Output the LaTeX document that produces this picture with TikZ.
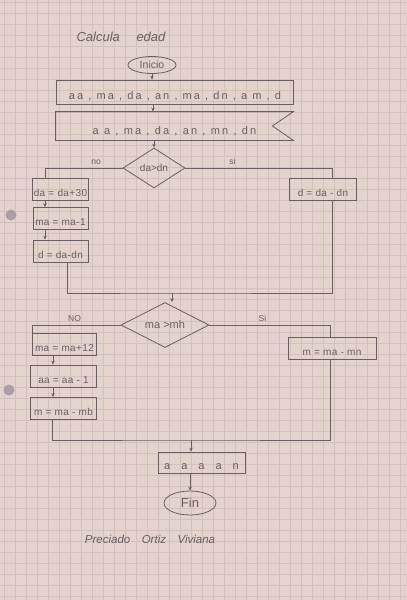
\documentclass[tikz,border=0pt]{standalone}
\usepackage{fontspec}
\setmainfont{Liberation Sans}
\usetikzlibrary{shapes.geometric,arrows.meta}
\definecolor{paper}{RGB}{228,210,204}
\definecolor{gridc}{RGB}{212,193,189}
\definecolor{pencil}{RGB}{105,95,98}
\definecolor{holec}{RGB}{172,160,166}
\tikzset{
  ln/.style={draw=pencil, line width=0.8pt},
  box/.style={ln, rectangle, minimum width=#1, minimum height=22pt, inner sep=1pt, text height=14pt, text depth=0pt, text=pencil, font=\fontsize{10}{11}\selectfont\addfontfeatures{LetterSpace=4}},
  dia/.style={ln, diamond, aspect=1.55, inner sep=1pt, text=pencil, font=\fontsize{10}{11}\selectfont},
  term/.style={ln, ellipse, inner sep=1pt, text=pencil, font=\fontsize{10.5}{11}\selectfont},
  arr/.style={ln, -{Stealth[length=4pt,width=3.5pt]}},
  lbl/.style={text=pencil, font=\fontsize{8.5}{9}\selectfont},
}
\begin{document}
\begin{tikzpicture}[x=1pt,y=-1pt]
\fill[paper] (0,0) rectangle (407,600);
\useasboundingbox (0,0) rectangle (407,600);
\foreach \i in {0,...,37} {\draw[gridc, line width=0.3pt] (4+11*\i,0) -- (4+11*\i,600);}
\foreach \j in {0,...,55} {\draw[gridc, line width=0.3pt] (0,2+11*\j) -- (407,2+11*\j);}
\fill[holec] (11,215) circle (5.5);
\fill[holec] (9,390) circle (5.5);

% title
\node[text=pencil, font=\itshape\fontsize{13}{14}\selectfont] (title) at (121,37) {Calcula\quad\ edad};

% nodes
\node[term, minimum width=48pt, minimum height=17pt] (ini) at (152,65) {Inicio};
\node[box=237pt, minimum height=24pt, text height=15pt, font=\fontsize{11}{12}\selectfont\addfontfeatures{LetterSpace=19}] (in1) at (175,92) {aa , ma , da , an , ma , dn , a m , d};
\node[box=237pt, minimum height=28pt, text height=16pt, draw=none, font=\fontsize{11}{12}\selectfont\addfontfeatures{LetterSpace=20}] (in2) at (174.5,126) {a a , ma , da , an , mn , dn\hspace{38pt}};
\draw[ln] (in2.north west) -- (in2.north east) -- ([xshift=-21pt]in2.east) -- (in2.south east) -- (in2.south west) -- cycle;

\node[dia, minimum width=62pt, minimum height=40pt] (d1) at (154,168) {da>dn};
\node[box=55pt] (b1) at (60.5,189) {da = da+30};
\node[box=55pt] (b2) at (60.5,218.5) {ma = ma-1};
\node[box=55pt] (b3) at (60.5,251) {d = da-dn};
\node[box=67pt] (r1) at (323,189) {d = da - dn};

\coordinate (m1) at (172,293);
\node[dia, minimum width=88pt, minimum height=45pt, font=\fontsize{11}{12}\selectfont] (d2) at (165,325) {ma >mh};
\node[box=64pt] (c1) at (64.5,344) {ma = ma+12};
\node[box=66pt] (c2) at (63.5,376) {aa = aa - 1};
\node[box=66pt] (c3) at (63.5,408.5) {m = ma - mb};
\node[box=88pt] (r2) at (332,348) {m = ma - mn};

\coordinate (m2) at (191,440);
\node[box=87pt, minimum height=21pt, font=\fontsize{11}{12}\selectfont\addfontfeatures{LetterSpace=8}] (out) at (201.5,462.5) {a\quad a\quad a\quad a\quad n};
\node[term, minimum width=52pt, minimum height=24pt, font=\fontsize{13}{14}\selectfont] (fin) at (190,503) {Fin};

\node[text=pencil, font=\itshape\fontsize{11.5}{12}\selectfont] (sig) at (150,539) {Preciado\quad Ortiz\quad Viviana};

% connectors
\draw[arr] (ini) -- (ini |- in1.north);
\draw[arr] (in1.south -| 153,0) -- (in2.north -| 153,0);
\draw[arr] (in2.south -| d1.north) -- (d1.north);

\draw[ln] (d1.west) -| ([xshift=-15.5pt]b1.north) node[lbl, pos=0.17, above] {no};
\draw[ln] (d1.east) -| ([xshift=9.5pt]r1.north) node[lbl, pos=0.16, above] {si};
\draw[arr] ([xshift=-15.5pt]b1.south) -- ([xshift=-15.5pt]b2.north);
\draw[arr] ([xshift=-15.5pt]b2.south) -- ([xshift=-15.5pt]b3.north);
\draw[ln] ([xshift=6.5pt]b3.south) |- (m1) -| ([xshift=9.5pt]r1.south);
\draw[arr] (m1) -- (m1 |- d2.north);

\draw[ln] (d2.west) -| (c1.north west) node[lbl, pos=0.26, above] {NO};
\draw[ln] (d2.east) -| ([xshift=-2pt]r2.north) node[lbl, pos=0.22, above] {Si};
\draw[arr] ([xshift=-11.5pt]c1.south) -- ([xshift=-10.5pt]c2.north);
\draw[arr] ([xshift=-10.5pt]c2.south) -- ([xshift=-10.5pt]c3.north);
\draw[ln] ([xshift=-11.5pt]c3.south) |- (m2) -| ([xshift=-2pt]r2.south);
\draw[arr] (m2) -- (m2 |- out.north);
\draw[arr] (out.south -| fin.north) -- (fin.north);
\end{tikzpicture}
\end{document}
